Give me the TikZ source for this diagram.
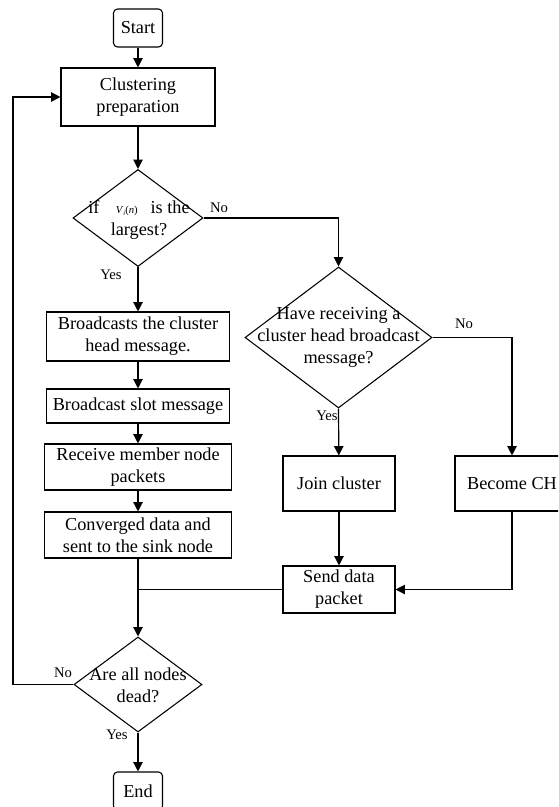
\documentclass[tikz,border=0pt]{standalone}
\usepackage{fontspec}
\setmainfont{Liberation Serif}
\usetikzlibrary{shapes.geometric,arrows.meta}
\begin{document}
\begin{tikzpicture}[x=0.75pt,y=-0.75pt,
  every node/.style={font=\fontsize{13.7}{16.5}\selectfont, inner sep=0pt, align=center},
  boxn/.style={draw, line width=0.8pt, rectangle},
  termn/.style={draw, line width=0.8pt, rectangle, rounded corners=3pt, minimum width=36.75pt, minimum height=28.5pt},
  dia/.style={draw, line width=0.8pt, diamond},
  lbl/.style={font=\fontsize{11}{12}\selectfont},
  conn/.style={line width=0.9pt},
  arr/.style={conn, -{Triangle[length=7pt,width=7pt]}}
]
\clip (0,0) rectangle (558,807);
\useasboundingbox (0,0) rectangle (558,807);
\fill[white] (0,0) rectangle (558,807);

\node[termn] (start) at (138,28) {Start};
\node[boxn, minimum width=115.5pt, minimum height=43.5pt] (clus) at (138,97) {Clustering\\preparation};

\node[dia, minimum width=97.5pt, minimum height=72.75pt] (d1) at (138,218) {};
\node (d1t) at (139,220) {if\hspace{0.9em}{\fontsize{8}{8}\selectfont\textit{V}\raisebox{-1.2pt}{\fontsize{5}{5}\selectfont\textit{i}}(\textit{n})}\hspace{0.7em}is the\\largest?};

\node[boxn, minimum width=137.25pt, minimum height=36.75pt] (bc) at (138,336.5) {Broadcasts the cluster\\head message.};
\node[boxn, minimum width=137.25pt, minimum height=25.5pt] (slot) at (138,406) {Broadcast slot message};
\node[boxn, minimum width=140.25pt, minimum height=34.5pt] (recv) at (138,467) {Receive member node\\packets};
\node[boxn, minimum width=140.25pt, minimum height=34.5pt] (conv) at (138,535) {Converged data and\\sent to the sink node};

\node[dia, minimum width=140.25pt, minimum height=105.75pt] (d2) at (338.5,337.5) {};
\node (d2t) at (338.5,337.5) {Have receiving a\\cluster head broadcast\\message?};

\node[boxn, minimum width=84pt, minimum height=41.25pt] (join) at (339,483.5) {Join cluster};
\node[boxn, minimum width=85.5pt, minimum height=41.25pt] (become) at (512,483.5) {Become CH};
\node[boxn, minimum width=84pt, minimum height=35.25pt] (send) at (339,589.5) {Send data\\packet};

\node[dia, minimum width=96pt, minimum height=71.25pt] (d3) at (138,684.5) {};
\node (d3t) at (138,685) {Are all nodes\\dead?};

\node[termn] (end) at (138,791) {End};

% labels
\node[lbl] (no1) at (219,208) {No};
\node[lbl] (yes1) at (111,275) {Yes};
\node[lbl] (no2) at (464,324) {No};
\node[lbl] (yes2) at (327,416) {Yes};
\node[lbl] (no3) at (63,673) {No};
\node[lbl] (yes3) at (117,735) {Yes};

% connectors
\draw[arr] (start) -- (clus);
\draw[arr] (clus) -- (d1);
\draw[arr] (d1.east) -| (d2.north);
\draw[arr] (d1.south) -- (bc);
\draw[arr] (bc) -- (slot);
\draw[arr] (slot) -- (recv);
\draw[arr] (recv) -- (conv);
\draw[arr] (conv.south) -- (d3.north);
\coordinate (jn) at (conv.south |- send.west);
\draw[conn] (send.west) -- (jn);
\draw[arr] (d2.south) -- (join);
\draw[arr] (d2.east) -| (become.north);
\draw[arr] (join) -- (send);
\draw[arr] (become.south) |- (send.east);
\coordinate (lp) at (13,684.5);
\draw[arr] (d3.west) -- (lp) |- (clus.west);
\draw[arr] (d3.south) -- (end);
\end{tikzpicture}
\end{document}
